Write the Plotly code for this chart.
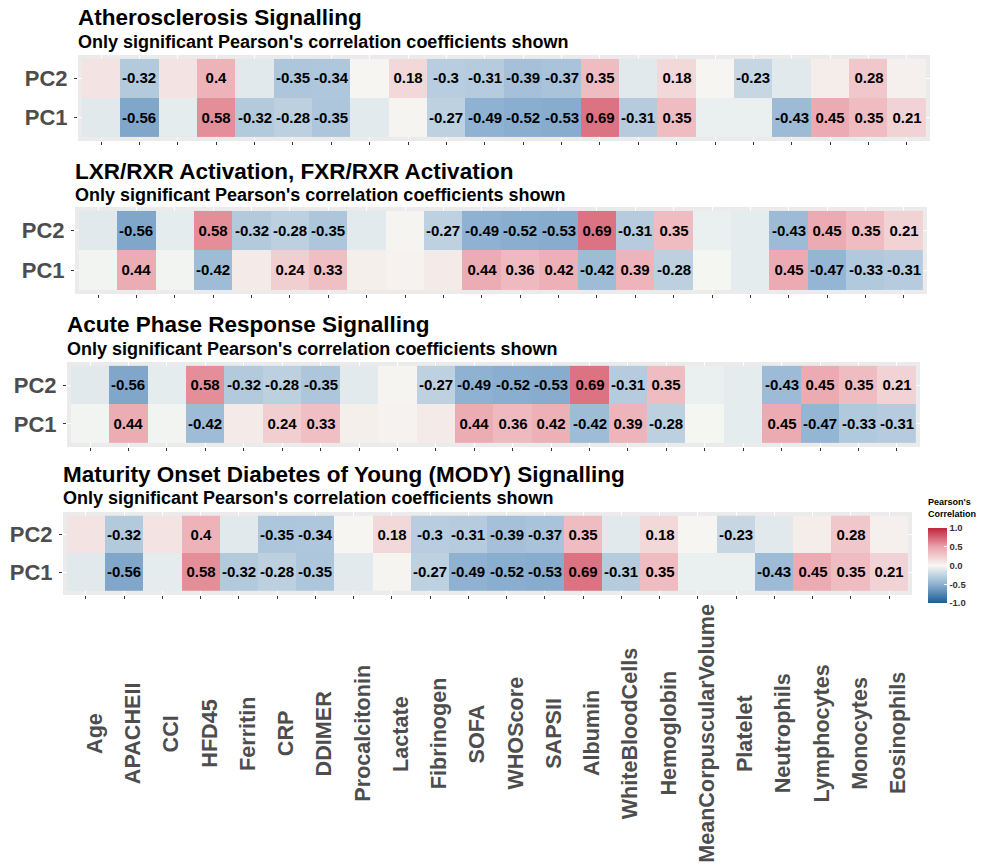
import plotly.graph_objects as go

# ---------------- data ----------------
variables = ["Age", "APACHEII", "CCI", "HFD45", "Ferritin", "CRP", "DDIMER",
             "Procalcitonin", "Lactate", "Fibrinogen", "SOFA", "WHOScore",
             "SAPSII", "Albumin", "WhiteBloodCells", "Hemoglobin",
             "MeanCorpuscularVolume", "Platelet", "Neutrophils",
             "Lymphocytes", "Monocytes", "Eosinophils"]
components = ["PC1", "PC2"]

pathway_titles = ["Atherosclerosis Signalling",
                  "LXR/RXR Activation, FXR/RXR Activation",
                  "Acute Phase Response Signalling",
                  "Maturity Onset Diabetes of Young (MODY) Signalling"]
subtitle = "Only significant Pearson's correlation coefficients shown"

# Atherosclerosis
ath_pc2 = [0.12, -0.32, 0.12, 0.40, -0.10, -0.35, -0.34, 0.01, 0.18, -0.30, -0.31,
           -0.39, -0.37, 0.35, -0.10, 0.18, 0.01, -0.23, -0.10, 0.06, 0.28, 0.04]
ath_pc2_sig = [0, 1, 0, 1, 0, 1, 1, 0, 1, 1, 1, 1, 1, 1, 0, 1, 0, 1, 0, 0, 1, 0]
ath_pc1 = [-0.10, -0.56, -0.08, 0.58, -0.32, -0.28, -0.35, -0.09, 0.02, -0.27, -0.49,
           -0.52, -0.53, 0.69, -0.31, 0.35, -0.06, -0.06, -0.43, 0.45, 0.35, 0.21]
ath_pc1_sig = [0, 1, 0, 1, 1, 1, 1, 0, 0, 1, 1, 1, 1, 1, 1, 1, 0, 0, 1, 1, 1, 1]

# LXR/RXR, FXR/RXR
lxr_pc2 = [-0.10, -0.56, -0.08, 0.58, -0.32, -0.28, -0.35, -0.09, 0.02, -0.27, -0.49,
           -0.52, -0.53, 0.69, -0.31, 0.35, -0.06, -0.08, -0.43, 0.45, 0.35, 0.21]
lxr_pc2_sig = [0, 1, 0, 1, 1, 1, 1, 0, 0, 1, 1, 1, 1, 1, 1, 1, 0, 0, 1, 1, 1, 1]
lxr_pc1 = [-0.02, 0.44, -0.02, -0.42, 0.07, 0.24, 0.33, 0.05, 0.03, 0.07, 0.44,
           0.36, 0.42, -0.42, 0.39, -0.28, -0.01, -0.08, 0.45, -0.47, -0.33, -0.31]
lxr_pc1_sig = [0, 1, 0, 1, 0, 1, 1, 0, 0, 0, 1, 1, 1, 1, 1, 1, 0, 0, 1, 1, 1, 1]

# Acute Phase Response
apr_pc2 = [-0.10, -0.56, -0.08, 0.58, -0.32, -0.28, -0.35, -0.09, 0.02, -0.27, -0.49,
           -0.52, -0.53, 0.69, -0.31, 0.35, -0.06, -0.08, -0.43, 0.45, 0.35, 0.21]
apr_pc2_sig = [0, 1, 0, 1, 1, 1, 1, 0, 0, 1, 1, 1, 1, 1, 1, 1, 0, 0, 1, 1, 1, 1]
apr_pc1 = [-0.02, 0.44, -0.02, -0.42, 0.07, 0.24, 0.33, 0.05, 0.03, 0.07, 0.44,
           0.36, 0.42, -0.42, 0.39, -0.28, -0.01, -0.08, 0.45, -0.47, -0.33, -0.31]
apr_pc1_sig = [0, 1, 0, 1, 0, 1, 1, 0, 0, 0, 1, 1, 1, 1, 1, 1, 0, 0, 1, 1, 1, 1]

# MODY
mody_pc2 = [0.12, -0.32, 0.12, 0.40, -0.10, -0.35, -0.34, 0.01, 0.18, -0.30, -0.31,
            -0.39, -0.37, 0.35, -0.10, 0.18, 0.01, -0.23, -0.10, 0.06, 0.28, 0.04]
mody_pc2_sig = [0, 1, 0, 1, 0, 1, 1, 0, 1, 1, 1, 1, 1, 1, 0, 1, 0, 1, 0, 0, 1, 0]
mody_pc1 = [-0.10, -0.56, -0.08, 0.58, -0.32, -0.28, -0.35, -0.09, 0.02, -0.27, -0.49,
            -0.52, -0.53, 0.69, -0.31, 0.35, -0.06, -0.06, -0.43, 0.45, 0.35, 0.21]
mody_pc1_sig = [0, 1, 0, 1, 1, 1, 1, 0, 0, 1, 1, 1, 1, 1, 1, 1, 0, 0, 1, 1, 1, 1]

panels = [
    (ath_pc1, ath_pc1_sig, ath_pc2, ath_pc2_sig),
    (lxr_pc1, lxr_pc1_sig, lxr_pc2, lxr_pc2_sig),
    (apr_pc1, apr_pc1_sig, apr_pc2, apr_pc2_sig),
    (mody_pc1, mody_pc1_sig, mody_pc2, mody_pc2_sig),
]

colorbar_ticks = [-1.0, -0.5, 0.0, 0.5, 1.0]
colorbar_ticktext = ["-1.0", "-0.5", "0.0", "0.5", "1.0"]

# ---------------- layout geometry ----------------
W, H = 987, 865
FONT = "Liberation Sans, Arial, sans-serif"


def px(xs):
    return xs / W


def py(ys):
    return 1 - ys / H


# grey panel boxes in screen pixels: (left, right, top, bottom)
boxes = [(78, 930, 55, 141), (75, 927, 207, 294), (67, 920, 362, 447), (63, 912, 512, 595)]
title_y = [17.5, 171.5, 324.5, 474.5]
sub_y = [42, 194.5, 349, 498.5]

colorscale = [[0.0, "#1A5E94"], [0.25, "#8EB1D1"], [0.5, "#F6F7F3"],
              [0.75, "#EBA2AB"], [1.0, "#C0253F"]]


def fmt(v):
    return f"{v:g}"


fig = go.Figure()
annotations = []
for i, (pc1, s1, pc2, s2) in enumerate(panels):
    n = "" if i == 0 else str(i + 1)
    z = [pc1, pc2]
    text = [[fmt(v) if s else "" for v, s in zip(pc1, s1)],
            [fmt(v) if s else "" for v, s in zip(pc2, s2)]]
    tr = go.Heatmap(
        x=variables, y=components, z=z, text=text, texttemplate="%{text}",
        textfont=dict(family=FONT, size=15, color="black", weight="bold"),
        colorscale=colorscale, zmin=-1, zmax=1,
        xaxis="x" + n, yaxis="y" + n, showscale=(i == 0), hoverinfo="x+y+z",
    )
    if i == 0:
        tr.colorbar = dict(
            x=px(928), xanchor="left", y=py(565.5), yanchor="middle",
            len=75 / H, lenmode="fraction", thickness=19, ypad=0, xpad=0,
            outlinewidth=0, tickvals=colorbar_ticks, ticktext=colorbar_ticktext,
            ticks="inside", ticklen=3, tickcolor="white",
            tickfont=dict(family=FONT, size=9.5, color="#333333", weight="bold"),
        )
    fig.add_trace(tr)
    l, r, t, b = boxes[i]
    axis_common = dict(showgrid=True, gridcolor="white", gridwidth=1, zeroline=False,
                       ticks="outside", ticklen=3, tickcolor="#333333", showline=False)
    fig.layout["xaxis" + n] = dict(
        domain=[px(l), px(r)], anchor="y" + n, range=[-0.6, 21.6],
        showticklabels=False, type="category", **axis_common)
    fig.layout["yaxis" + n] = dict(
        domain=[py(b), py(t)], anchor="x" + n, range=[-0.6, 1.6],
        type="category",
        tickfont=dict(family=FONT, size=22, color="#4D4D4D", weight="bold"),
        ticklabelstandoff=2, **axis_common)
    annotations.append(dict(
        text="<b>" + pathway_titles[i] + "</b>", xref="paper", yref="paper",
        x=px(l - 2), y=py(title_y[i]), xanchor="left", yanchor="middle",
        showarrow=False, font=dict(family=FONT, size=22.5, color="black")))
    annotations.append(dict(
        text="<b>" + subtitle + "</b>", xref="paper", yref="paper",
        x=px(l - 2), y=py(sub_y[i]), xanchor="left", yanchor="middle",
        showarrow=False, font=dict(family=FONT, size=18, color="black")))

# colour bar title
annotations.append(dict(
    text="<b>Pearson's<br>Correlation</b>", xref="paper", yref="paper",
    x=px(926), y=py(521), xanchor="left", yanchor="bottom", align="left",
    showarrow=False, font=dict(family=FONT, size=9, color="black")))

# x-axis labels under the last panel, rotated and centred
for v in variables:
    annotations.append(dict(
        text="<b>" + v + "</b>", xref="x4", yref="paper", x=v, y=py(733.5),
        xanchor="center", yanchor="middle", textangle=-90, xshift=8.5,
        showarrow=False, font=dict(family=FONT, size=21.6, color="#4D4D4D")))

fig.update_layout(
    width=W, height=H, margin=dict(l=0, r=0, t=0, b=0),
    paper_bgcolor="white", plot_bgcolor="#EBEBEB",
    annotations=annotations, font=dict(family=FONT),
)

fig.write_html("out.html", config={"displayModeBar": False},
               post_script="document.body.style.margin='0';")
